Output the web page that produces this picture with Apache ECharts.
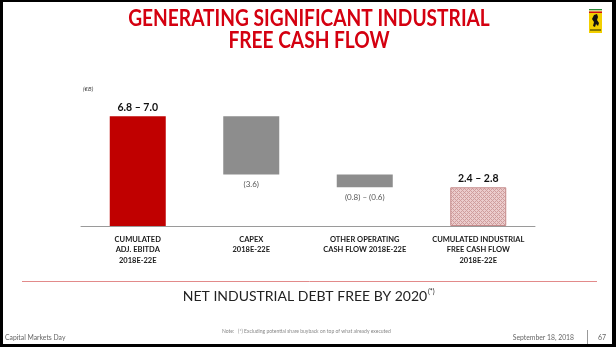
<!DOCTYPE html>
<html><head><meta charset="utf-8">
<script src="https://cdn.jsdelivr.net/npm/echarts@6/dist/echarts.min.js"></script>
<style>html,body{margin:0;padding:0;background:#fff}#c{width:616px;height:347px}</style>
</head><body><div id="c"></div>
<script>
const categories = ['CUMULATED\nADJ. EBITDA\n2018E-22E', 'CAPEX\n2018E-22E', 'OTHER OPERATING\nCASH FLOW 2018E-22E', 'CUMULATED INDUSTRIAL\nFREE CASH FLOW\n2018E-22E'];
const baseValues = [0, 3.2, 2.4, 0];
const barValues = [6.8, 3.6, 0.8, 2.4];
const barLabels = ['6.8 – 7.0', '(3.6)', '(0.8) – (0.6)', '2.4 – 2.8'];
const labelPos = ['top', 'bottom', 'bottom', 'top'];

const pc = document.createElement('canvas');
pc.width = 4; pc.height = 4;
const g = pc.getContext('2d');
g.fillStyle = '#ebcccc'; g.fillRect(0,0,4,4);
g.fillStyle = '#cf9d9d';
g.fillRect(0,0,1,1); g.fillRect(1,1,1,1); g.fillRect(2,2,1,1); g.fillRect(3,3,1,1);
g.fillRect(3,1,1,1); g.fillRect(1,3,1,1);

const colors = ['#c00000', '#8d8d8d', '#8d8d8d', {image: pc, repeat: 'repeat'}];
const fontF = 'Lato, "Open Sans", sans-serif';

const chart = echarts.init(document.getElementById('c'), null, {renderer: 'canvas'});
chart.setOption({
  animation: false,
  backgroundColor: '#fff',
  grid: {left: 81, right: 81, top: 97, bottom: 121},
  xAxis: {
    type: 'category', data: categories,
    axisLine: {lineStyle: {color: '#9a9a9a', width: 1}},
    axisTick: {show: false},
    axisLabel: {color: '#1a1a1a', fontSize: 7.5, fontWeight: 'bold', fontFamily: fontF, lineHeight: 10.5, margin: 8, interval: 0}
  },
  yAxis: {type: 'value', min: 0, max: 8, show: false, splitLine: {show: false}},
  series: [
    {type: 'bar', stack: 'w', data: baseValues, itemStyle: {color: 'transparent'}, barWidth: 56, silent: true},
    {type: 'bar', stack: 'w', barWidth: 56,
     data: barValues.map((v, i) => ({
       value: v,
       itemStyle: i === 3 ? {color: colors[i], borderColor: '#c58a8a', borderWidth: 1} : {color: colors[i]},
       label: {
         show: true, position: labelPos[i], formatter: barLabels[i],
         distance: labelPos[i] === 'top' ? 3 : 6,
         fontFamily: fontF,
         fontSize: labelPos[i] === 'top' ? 10.5 : 8,
         fontWeight: labelPos[i] === 'top' ? 'bold' : 'normal',
         color: labelPos[i] === 'top' ? '#111' : '#555'
       }
     }))
    }
  ],
  graphic: [
    {type: 'text', x: 309, y: 8, scaleX: 0.87, style: {text: 'GENERATING SIGNIFICANT INDUSTRIAL', fill: '#d40010', font: 'bold 22px ' + fontF, textAlign: 'center'}},
    {type: 'text', x: 309, y: 30, scaleX: 0.87, style: {text: 'FREE CASH FLOW', fill: '#d40010', font: 'bold 22px ' + fontF, textAlign: 'center'}},
    {type: 'text', x: 83, y: 86, style: {text: '(€B)', fill: '#444', font: 'italic 6px ' + fontF}},
    {type: 'line', shape: {x1: 22, y1: 281.5, x2: 597, y2: 281.5}, style: {stroke: '#e28a8a', lineWidth: 1}},
    {type: 'text', x: 305, y: 289, style: {text: 'NET INDUSTRIAL DEBT FREE BY 2020', fill: '#222', font: '14px ' + fontF, textAlign: 'center'}},
    {type: 'text', x: 428, y: 288, style: {text: '(*)', fill: '#222', font: '7px ' + fontF}},
    {type: 'text', x: 222, y: 329, style: {text: 'Note:   (*) Excluding potential share buyback on top of what already executed', fill: '#888', font: '5px ' + fontF}},
    {type: 'text', x: 5, y: 334, style: {text: 'Capital Markets Day', fill: '#666', font: '6.8px ' + fontF}},
    {type: 'text', x: 574, y: 334, style: {text: 'September 18, 2018', fill: '#666', font: '6.8px ' + fontF, textAlign: 'right'}},
    {type: 'line', shape: {x1: 587.5, y1: 330, x2: 587.5, y2: 345}, style: {stroke: '#999', lineWidth: 1}},
    {type: 'text', x: 598, y: 334, style: {text: '67', fill: '#666', font: '7px ' + fontF}},
    {type: 'rect', shape: {x: 589, y: 9, width: 13, height: 24}, style: {fill: '#f2cf00'}},
    {type: 'rect', shape: {x: 589, y: 9, width: 13, height: 1.5}, style: {fill: '#2a8a3a'}},
    {type: 'rect', shape: {x: 589, y: 10.5, width: 13, height: 1}, style: {fill: '#ffffff'}},
    {type: 'rect', shape: {x: 589, y: 11.5, width: 13, height: 1.5}, style: {fill: '#d01010'}},
    {type: 'polygon', shape: {points: [[594,15],[597,14],[598,17],[597,20],[599,23],[598,26],[596,24],[595,27],[593,26],[594,22],[592,19]]}, style: {fill: '#111'}},
    {type: 'rect', shape: {x: 590, y: 29, width: 11, height: 2}, style: {fill: '#8a7a00'}},
    {type: 'rect', shape: {x: 0, y: 0, width: 3, height: 347}, style: {fill: '#000'}},
    {type: 'rect', shape: {x: 0, y: 0, width: 616, height: 2}, style: {fill: '#000'}},
    {type: 'rect', shape: {x: 612, y: 0, width: 4, height: 347}, style: {fill: '#000'}},
    {type: 'rect', shape: {x: 0, y: 344, width: 616, height: 3}, style: {fill: '#000'}}
  ]
});
</script></body></html>
